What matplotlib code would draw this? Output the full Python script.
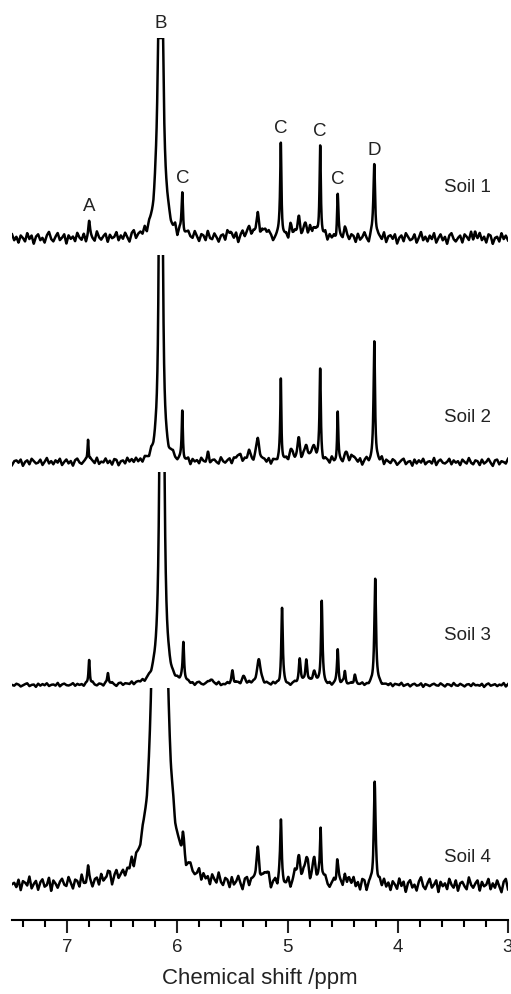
import numpy as np
import matplotlib
matplotlib.use("Agg")
import matplotlib.pyplot as plt
from matplotlib.patches import Rectangle
from matplotlib.ticker import MultipleLocator

plt.rcParams['font.family'] = ['Liberation Sans', 'DejaVu Sans']

# stacking / clipping of the four traces (intensity units)
soil_names = ['Soil 1', 'Soil 2', 'Soil 3', 'Soil 4']
soil_offsets = [682, 458, 235, 35]
soil_clip = [200, 207, 213, 197]          # off-scale peaks are cut here
soil_flat_top = [True, False, False, False]
soil_label_heights = [50, 44, 49, 28]
noise_scale = [1.2, 0.8, 0.4, 1.5]
noise_shift = [0, 57, 113, 171]

# peak tables: position (ppm), height, half width (ppm)
soil1_ppm = [6.80, 6.152, 5.955, 5.52, 5.35, 5.27, 5.20, 5.061, 4.97, 4.90, 4.84, 4.77, 4.704, 4.545, 4.47, 4.213, 3.30]
soil1_height = [15, 500, 42, 6, 8, 18, 8, 94, 10, 16, 12, 10, 93, 42, 6, 74, 7]
soil1_width = [0.008, 0.019, 0.008, 0.02, 0.03, 0.02, 0.02, 0.007, 0.02, 0.015, 0.02, 0.02, 0.007, 0.007, 0.02, 0.009, 0.01]

soil2_ppm = [6.81, 6.15, 5.955, 5.72, 5.45, 5.35, 5.27, 5.061, 4.97, 4.90, 4.83, 4.76, 4.704, 4.545, 4.47, 4.40, 4.213]
soil2_height = [25, 1500, 47, 8, 6, 8, 20, 82, 10, 20, 15, 14, 90, 48, 8, 5, 121]
soil2_width = [0.006, 0.008, 0.006, 0.01, 0.03, 0.02, 0.02, 0.006, 0.02, 0.015, 0.02, 0.02, 0.007, 0.006, 0.02, 0.02, 0.008]

soil3_ppm = [6.80, 6.63, 6.14, 5.945, 5.70, 5.50, 5.40, 5.26, 5.05, 4.89, 4.83, 4.76, 4.69, 4.545, 4.48, 4.39, 4.205]
soil3_height = [25, 12, 1500, 40, 5, 14, 8, 25, 76, 26, 24, 12, 83, 35, 13, 10, 108]
soil3_width = [0.007, 0.008, 0.01, 0.008, 0.02, 0.01, 0.02, 0.02, 0.008, 0.01, 0.01, 0.02, 0.008, 0.008, 0.008, 0.01, 0.009]

soil4_ppm = [6.81, 6.63, 6.16, 5.95, 5.27, 5.19, 5.06, 4.90, 4.83, 4.76, 4.70, 4.55, 4.45, 4.21]
soil4_height = [12, 10, 1350, 20, 30, 10, 60, 26, 22, 20, 60, 25, 8, 100]
soil4_width = [0.01, 0.01, 0.032, 0.01, 0.02, 0.02, 0.008, 0.02, 0.02, 0.02, 0.008, 0.01, 0.02, 0.01]

# baseline noise pattern (hand typed), sampled across 7.5 -> 3.0 ppm
noise = [3, -2, 1, -4, 2, 0, -3, 4, -1, 2, -5, 1, 3, -2, 0, -4, 2, 5, -1, -3, 1, 4, -2, 0, 3, -5, 2, -1, 1, -3,
         4, 0, -2, 3, -4, 1, 2, -1, -3, 5, 0, -2, 1, 3, -4, 2, -1, 0, 4, -3, 1, -2, 3, -1, -5, 2, 4, -3, 0, 1,
         -2, 3, -4, 2, 1, -1, 5, -3, 0, 2, -4, 1, 3, -2, -1, 4, -5, 2, 0, -3, 1, 3, -1, -2, 4, 0, -4, 2, 1, -3,
         5, -1, -2, 3, 0, -4, 1, 2, -3, 4, -1, 0, -2, 3, -5, 1, 4, -2, 0, 2, -3, 1, -1, 5, -4, 2, 0, -2, 3, 1,
         -4, -1, 2, 4, -3, 0, 1, -5, 3, -2, 2, -1, 4, -3, 0, 1, -2, 5, -4, 1, 3, -1, -2, 0, 4, -3, 2, -1, 1, -4,
         3, 0, -2, 5, -1, -3, 2, 1, -4, 3, -2, 0, 4, -1, -5, 2, 3, -3, 1, 0, -2, 4, -4, 1, 2, -1, 3, -5, 0, 2,
         -3, 4, 1, -2, -1, 3, -4, 0, 5, -2, 1, -3, 2, -1, 4, -4, 0, 3, -2, 1, -5, 2, 4, -1, -3, 0, 2, -4, 3, 1,
         -2, 5, -3, 0, -1, 4, -2, 1, -4, 3, 2, -5, 0, 1, -3, 4, -1, 2, -2]

peak_letters = ['A', 'B', 'C', 'C', 'C', 'C', 'D']
peak_letter_ppm = [6.80, 6.152, 5.955, 5.061, 4.704, 4.545, 4.213]

tick_major = [3, 4, 5, 6, 7]

peaks = [(soil1_ppm, soil1_height, soil1_width),
         (soil2_ppm, soil2_height, soil2_width),
         (soil3_ppm, soil3_height, soil3_width),
         (soil4_ppm, soil4_height, soil4_width)]

x = np.linspace(7.5, 3.0, 4501)
noise_x = np.linspace(7.5, 3.0, len(noise))


def spectrum(ppm, height, width, scale, shift):
    """Sum of Lorentzian lines plus the baseline noise pattern."""
    y = np.zeros_like(x)
    for p, h, w in zip(ppm, height, width):
        y += h / (1 + ((x - p) / w) ** 2)
    n = np.roll(np.array(noise, dtype=float), shift) * scale
    return y + np.interp(x[::-1], noise_x[::-1], n[::-1])[::-1]


fig = plt.figure(figsize=(5.11, 9.94), dpi=100)
ax = fig.add_axes([12 / 511, 1 - 920 / 994, 496 / 511, 920 / 994])

soil1_y = None
for i, (ppm, height, width) in enumerate(peaks):
    y = spectrum(ppm, height, width, noise_scale[i], noise_shift[i]) + soil_offsets[i]
    top = soil_offsets[i] + soil_clip[i]
    if soil_flat_top[i]:
        y = np.minimum(y, top)
    if i == 0:
        soil1_y = y
    line, = ax.plot(x, y, color='black', lw=1.8, clip_on=True)
    line.set_clip_path(Rectangle((3.0, -100), 4.5, top + 100, transform=ax.transData))
    ax.text(3.37, soil_offsets[i] + soil_label_heights[i], soil_names[i],
            ha='center', va='center', fontsize=13.5, color='#222222')

for letter, p in zip(peak_letters, peak_letter_ppm):
    tip = soil1_y[np.abs(x - p) < 0.01].max()
    ax.text(p, tip + 14, letter, ha='center', va='center', fontsize=13.5, color='#222222')

ax.set_xlim(7.5, 3.0)
ax.set_ylim(0, 920)
ax.set_yticks([])
for side in ['left', 'right', 'top']:
    ax.spines[side].set_visible(False)
ax.spines['bottom'].set_linewidth(1.5)
ax.set_xticks(tick_major)
ax.set_xticklabels([str(t) for t in tick_major])
ax.xaxis.set_minor_locator(MultipleLocator(0.2))
ax.tick_params(axis='x', which='major', length=9, width=1.5, labelsize=13.5, pad=5, colors='#222222')
ax.tick_params(axis='x', which='minor', length=5, width=1.5)
ax.set_xlabel('Chemical shift /ppm', fontsize=16, labelpad=8, color='#222222')
ax.patch.set_alpha(0)

fig.savefig('out.png', dpi=100)
